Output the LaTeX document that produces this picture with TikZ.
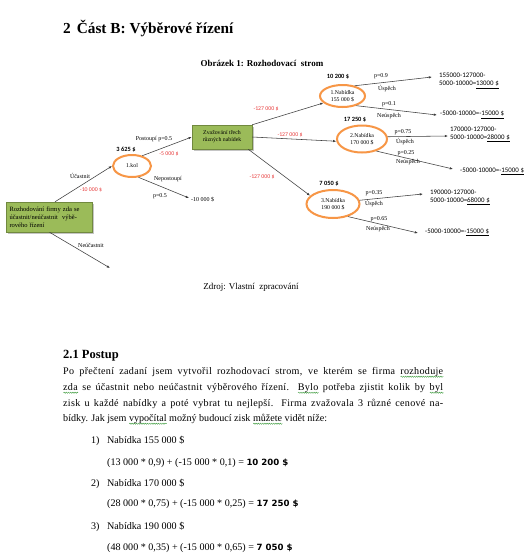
\documentclass[tikz,border=0pt]{standalone}
\usepackage{fontspec}
\setmainfont{Liberation Serif}
\newfontfamily\calib{Carlito}
\newfontfamily\dvs{DejaVu Sans}
\usetikzlibrary{arrows.meta,shapes.geometric,shadows,decorations.pathmorphing}
\definecolor{boxgreen}{RGB}{155,187,89}
\definecolor{boxedge}{RGB}{113,137,63}
\definecolor{ellorange}{RGB}{247,150,70}
\definecolor{lblred}{RGB}{232,60,60}
\definecolor{spellgreen}{RGB}{70,160,70}
\definecolor{linegrey}{RGB}{60,60,60}
\newlength\swlen
\newcommand\sw[1]{\settowidth\swlen{#1}\rlap{\tikz[baseline=0pt,x=1pt,y=1pt]\draw[spellgreen,line width=0.45pt,decorate,decoration={snake,amplitude=0.6pt,segment length=2.2pt}] (0pt,-2.2pt) -- (\swlen,-2.2pt);}#1}
\newcommand\bodyfont{\fontsize{10.1}{12}\selectfont}
\newcommand\widebody{\addfontfeature{LetterSpace=3}}
\newcommand\resbold{\dvs\bfseries\fontsize{8.6}{10}\selectfont}
\begin{document}
\begin{tikzpicture}[x=1pt,y=-1pt,
  gbox/.style={rectangle, draw=boxedge, fill=boxgreen, line width=0.5pt,
    drop shadow={shadow xshift=1.5pt, shadow yshift=-1.5pt, opacity=0.45},
    inner sep=2pt},
  oval/.style={ellipse, draw=ellorange, line width=2pt, fill=white,
    font=\fontsize{5.8}{7.2}\selectfont, align=center, inner sep=0pt},
  conn/.style={draw=linegrey, line width=0.55pt, -{Latex[length=3.2pt,width=2.4pt]}},
  lab/.style={font=\fontsize{6}{7}\selectfont, inner sep=0pt},
  costlbl/.style={font=\calib\fontsize{5.8}{7}\selectfont, text=lblred, inner sep=0pt},
  valbl/.style={font=\calib\bfseries\fontsize{6.4}{7}\selectfont, inner sep=0pt},
  res/.style={font=\calib\fontsize{6.9}{8}\selectfont, align=left, anchor=west, inner sep=0pt},
  body/.style={font=\bodyfont, anchor=base west, inner sep=0pt}]
\useasboundingbox (0,0) rectangle (530,558);
\fill[white] (0,0) rectangle (530,558);

% headings
\node[anchor=base west, inner sep=0pt, font=\fontsize{15.3}{18}\selectfont\bfseries] (title) at (63,33) {2\hspace{6pt}Část B: Výběrové řízení};
\node[inner sep=0pt, font=\fontsize{9}{10}\selectfont\bfseries] (cap) at (262,63) {Obrázek 1: Rozhodovací\ \ strom};

% decision tree nodes
\node[gbox, minimum width=86pt, minimum height=30pt, text width=80pt, align=left,
  font=\fontsize{6.5}{8}\selectfont] (root) at (49.5,217)
  {Rozhodování firmy zda se\\účastnit/neúčastnit\ \ výbě-\\rového řízení};
\node[oval, minimum width=38pt, minimum height=22pt] (kol) at (132,166) {1.kol};
\node[gbox, minimum width=60pt, minimum height=24pt, align=center,
  font=\fontsize{5.8}{7}\selectfont] (dec) at (222,137) {Zvažování třech\\různých nabídek};
\node[oval, minimum width=45pt, minimum height=22pt] (n1) at (342.5,96) {1.Nabídka\\155 000 \$};
\node[oval, minimum width=50pt, minimum height=27pt] (n2) at (362,139) {2.Nabídka\\170 000 \$};
\node[oval, minimum width=53pt, minimum height=28pt] (n3) at (333,204) {3.Nabídka\\190 000 \$};

% free ends
\coordinate (nu) at (110,268);
\coordinate (k2) at (189,198);
\coordinate (r1a) at (432,77);
\coordinate (r1b) at (437,115);
\coordinate (r2a) at (448,136);
\coordinate (r2b) at (453,169);
\coordinate (r3a) at (423,194);
\coordinate (r3b) at (418,233);

% connectors
\draw[conn] (root.70) -- (kol.west);
\draw[conn] (root.south) -- (nu);
\draw[conn] (kol.45) -- (dec.west);
\draw[conn] (kol.-60) -- (k2);
\draw[conn] (dec.north east) -- (n1.200);
\draw[conn] (dec.east) -- (n2.185);
\draw[conn] (dec.-25) -- (n3.160);
\draw[conn] (n1.40) -- (r1a);
\draw[conn] (n1.-35) -- (r1b);
\draw[conn] (n2.5) -- (r2a);
\draw[conn] (n2.-40) -- (r2b);
\draw[conn] (n3.8) -- (r3a);
\draw[conn] (n3.-40) -- (r3b);

% labels
\node[lab] (l1) at (80,176) {Účastnit};
\node[costlbl] (c1) at (91,190) {-10 000 \$};
\node[lab] (l2) at (91,245) {Neúčastnit};
\node[valbl] (v0) at (126,150) {3 625 \$};
\node[lab] (l3) at (154,139) {Postoupí p=0.5};
\node[costlbl] (c2) at (169,154) {-5 000 \$};
\node[lab] (l4) at (168,179) {Nepostoupí};
\node[lab] (l5) at (160,196) {p=0.5};
\node[lab, anchor=west] (l6) at (191,200) {-10 000 \$};
\node[costlbl] (c3) at (266,109) {-127 000 \$};
\node[costlbl] (c4) at (290,135) {-127 000 \$};
\node[costlbl] (c5) at (262,177) {-127 000 \$};
\node[valbl] (v1) at (338,77) {10 200 \$};
\node[valbl] (v2) at (355,120) {17 250 \$};
\node[valbl] (v3) at (329,184) {7 050 \$};
\node[lab] at (381,76) {p=0.9};
\node[lab] at (387,89) {Úspěch};
\node[lab] at (389,104) {p=0.1};
\node[lab] at (389,116) {Neúspěch};
\node[lab] at (403,132) {p=0.75};
\node[lab] at (405,142) {Úspěch};
\node[lab] at (406,153) {p=0.25};
\node[lab] at (408,162) {Neúspěch};
\node[lab] at (374,193) {p=0.35};
\node[lab] at (374,204) {Úspěch};
\node[lab] at (379,219) {p=0.65};
\node[lab] at (378,229) {Neúspěch};

% results
\node[res] (t1a) at (439,81) {155000-127000-\\5000-10000=\underline{13000 \$}};
\node[res] (t1b) at (440,115) {-5000-10000=-\underline{15000 \$}};
\node[res] (t2a) at (450,134.5) {170000-127000-\\5000-10000=\underline{28000 \$}};
\node[res] (t2b) at (460,171.5) {-5000-10000=-\underline{15000 \$}};
\node[res] (t3a) at (430,197.5) {190000-127000-\\5000-10000=\underline{68000 \$}};
\node[res] (t3b) at (425,232.5) {-5000-10000=-\underline{15000 \$}};

% source
\node[inner sep=0pt, font=\fontsize{9}{10}\selectfont] (src) at (251,287) {Zdroj: Vlastní\ \ zpracování};

% section text
\node[anchor=base west, inner sep=0pt, font=\fontsize{12.5}{14}\selectfont\bfseries] (sec) at (63,358) {2.1 Postup};
\node[body] (p1) at (63,374.5) {\widebody\makebox[380pt][s]{Po přečtení zadaní jsem vytvořil rozhodovací strom, ve kterém se firma \sw{rozhoduje}}};
\node[body] (p2) at (63,390.5) {\widebody\makebox[380pt][s]{\sw{zda} se účastnit nebo neúčastnit výběrového řízení. \sw{Bylo} potřeba zjistit kolik by \sw{byl}}};
\node[body] (p3) at (63,406) {\widebody\makebox[380pt][s]{zisk u každé nabídky a poté vybrat tu nejlepší. Firma zvažovala 3 různé cenové na-}};
\node[body] (p4) at (63,421.5) {bídky. Jak jsem \sw{vypočítal} možný budoucí zisk \sw{můžete} vidět níže:};

\node[body] (i1) at (91,443.5) {1)};
\node[body] (i1t) at (107,443.5) {Nabídka 155 000 \$};
\node[body] (f1) at (107,465.5) {(13 000 * 0,9) + (-15 000 * 0,1) = {\resbold 10 200 \$}};
\node[body] (i2) at (91,486.5) {2)};
\node[body] (i2t) at (107,486.5) {Nabídka 170 000 \$};
\node[body] (f2) at (107,506.5) {(28 000 * 0,75) + (-15 000 * 0,25) = {\resbold 17 250 \$}};
\node[body] (i3) at (91,529.5) {3)};
\node[body] (i3t) at (107,529.5) {Nabídka 190 000 \$};
\node[body] (f3) at (107,550.5) {(48 000 * 0,35) + (-15 000 * 0,65) = {\resbold 7 050 \$}};
\end{tikzpicture}
\end{document}
